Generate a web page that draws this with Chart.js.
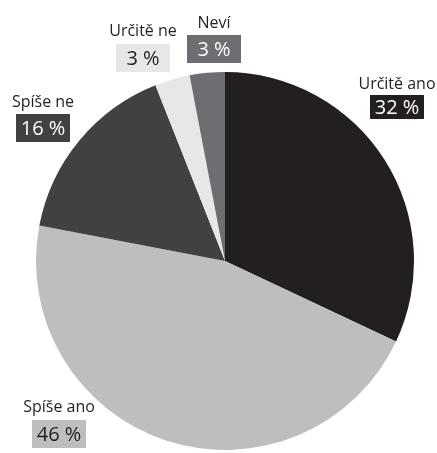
<!DOCTYPE html>
<html>
<head>
<meta charset="utf-8">
<script src="https://cdn.jsdelivr.net/npm/chart.js@4.4.0/dist/chart.umd.min.js"></script>
<style>
    html, body { margin: 0; padding: 0; background: #ffffff; }
    #wrap { width: 437px; height: 453px; position: relative; }
</style>
</head>
<body>
<div id="wrap"><canvas id="pieChart" width="437" height="453"></canvas></div>
<script>
// categories and values (percent), clockwise from the top
var categories = ['Určitě ano', 'Spíše ano', 'Spíše ne', 'Určitě ne', 'Neví'];
var values = [32, 46, 16, 3, 3];
var valueLabels = ['32 %', '46 %', '16 %', '3 %', '3 %'];

// slice colours and label colours
var sliceColors = ['#231f20', '#bcbec0', '#414042', '#e6e7e8', '#6d6e71'];
var boxTextColors = ['#ffffff', '#231f20', '#ffffff', '#231f20', '#ffffff'];

// where each outside label sits (center x, baseline of name, top of box, box height)
var labelLayout = [
    { x: 397, base: 89, boxTop: 95, boxH: 24 },
    { x: 59, base: 412, boxTop: 420, boxH: 28 },
    { x: 43, base: 107, boxTop: 114, boxH: 28 },
    { x: 143, base: 36, boxTop: 44, boxH: 28 },
    { x: 214, base: 28, boxTop: 35, boxH: 28 }
];

//plugin that draws the name + the boxed percent for each slice
var outsideLabels = {
    id: 'outsideLabels',
    afterDatasetsDraw: function (chart) {
        var ctx = chart.ctx;
        ctx.save();
        chart.getDatasetMeta(0).data.forEach(function (arc, i) {
            var l = labelLayout[i];
            ctx.textAlign = 'center';
            ctx.textBaseline = 'alphabetic';
            ctx.fillStyle = '#231f20';
            ctx.font = '16px "Open Sans"';
            ctx.fillText(categories[i], l.x, l.base);

            ctx.font = '20px "Open Sans"';
            var w = 54;
            ctx.fillStyle = sliceColors[i];
            ctx.fillRect(l.x - w / 2, l.boxTop, w, l.boxH);
            ctx.fillStyle = boxTextColors[i];
            ctx.textBaseline = 'middle';
            ctx.fillText(valueLabels[i], l.x, l.boxTop + l.boxH / 2 + 1);
        });
        ctx.restore();
    }
};

var ctx = document.getElementById('pieChart').getContext('2d');
var myPie = new Chart(ctx, {
    type: 'pie',
    data: {
        labels: categories,
        datasets: [{
            data: values,
            backgroundColor: sliceColors,
            borderWidth: 0
        }]
    },
    options: {
        responsive: false,
        animation: false,
        layout: {
            padding: { top: 72, bottom: 3, left: 36, right: 23 }
        },
        plugins: {
            legend: { display: false },
            tooltip: { enabled: false }
        }
    },
    plugins: [outsideLabels]
});
</script>
</body>
</html>
